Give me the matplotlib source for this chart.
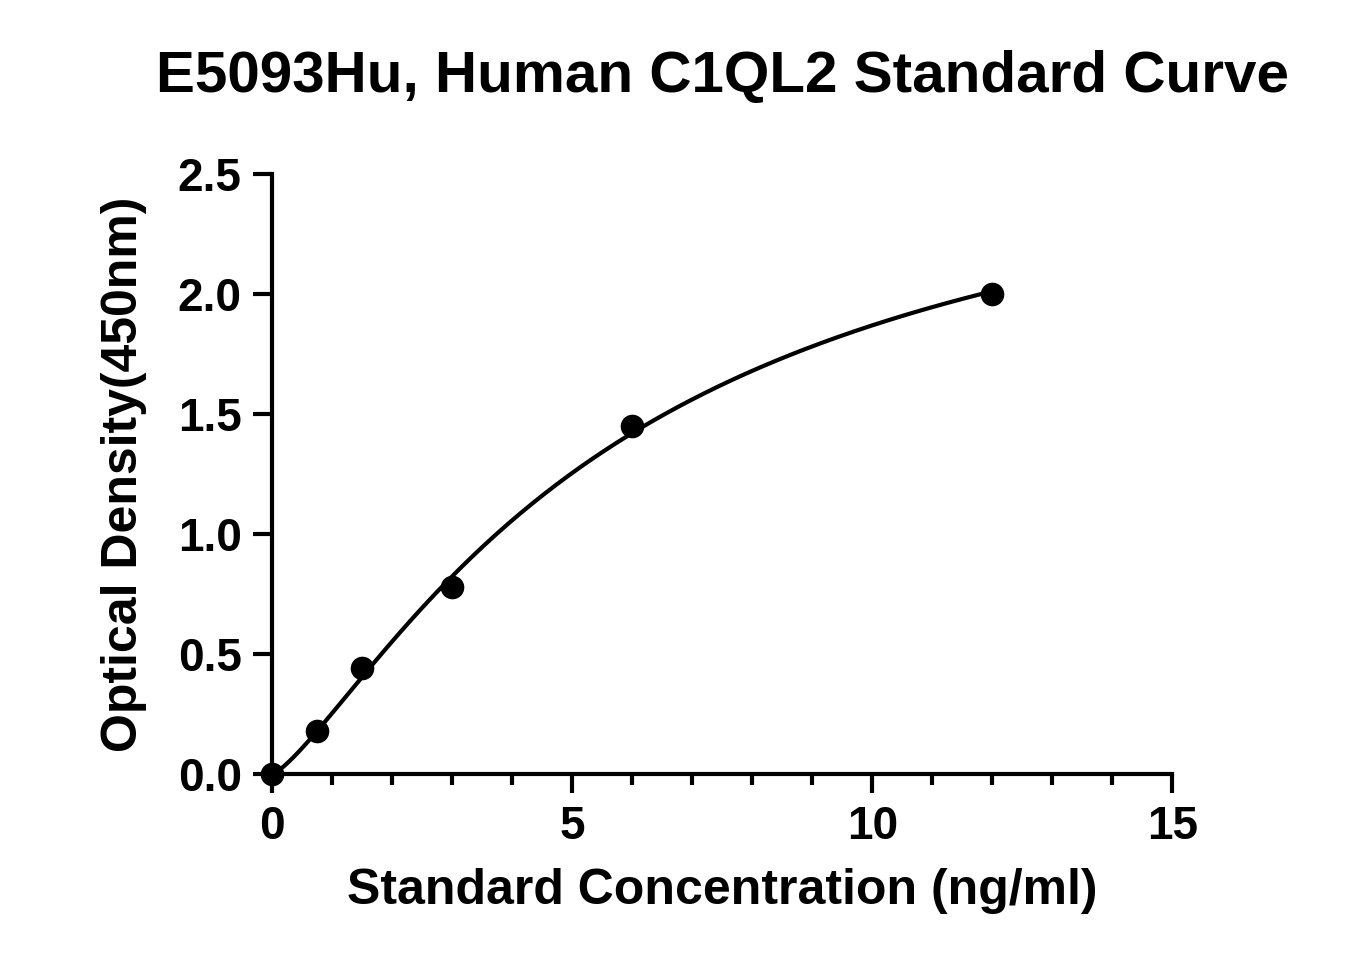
import numpy as np
import matplotlib
matplotlib.use("Agg")
import matplotlib.pyplot as plt
from matplotlib.ticker import MultipleLocator

conc = [0, 0.75, 1.5, 3, 6, 12]
od = [0.0, 0.18, 0.44, 0.78, 1.45, 2.0]

plt.rcParams['font.family'] = ['Liberation Sans', 'DejaVu Sans']
plt.rcParams['font.weight'] = 'bold'
fig = plt.figure(figsize=(13.68, 9.75), dpi=100)
ax = fig.add_axes([0.199, 0.206, 0.658, 0.616])

# 4-parameter logistic fit (bottom fixed at 0) by grid search
x = np.array(conc, float); y = np.array(od, float)
best = None
for b in np.linspace(1.0, 3.0, 81):
    for c in np.linspace(2, 30, 281):
        g = 1 - 1 / (1 + (x / c) ** b)
        d = (g @ y) / (g @ g)
        err = np.sum((d * g - y) ** 2)
        if best is None or err < best[0]:
            best = (err, b, c, d)
_, b, c, d = best
xs = np.linspace(0, 12, 300)
ax.plot(xs, d * (1 - 1 / (1 + (xs / c) ** b)), color='black', lw=3)
ax.plot(conc, od, 'o', color='black', ms=16, clip_on=False, zorder=3)

ax.set_xlim(0, 15)
ax.set_ylim(0, 2.5)
ax.xaxis.set_major_locator(MultipleLocator(5))
ax.xaxis.set_minor_locator(MultipleLocator(1))
ax.yaxis.set_major_locator(MultipleLocator(0.5))
ax.yaxis.set_major_formatter(matplotlib.ticker.FormatStrFormatter('%.1f'))
for s in ['top', 'right']:
    ax.spines[s].set_visible(False)
for s in ['left', 'bottom']:
    ax.spines[s].set_linewidth(3)
ax.tick_params(which='major', length=14, width=3, labelsize=33, pad=8)
ax.tick_params(which='minor', length=8, width=3)
for l in ax.get_xticklabels() + ax.get_yticklabels():
    l.set_fontweight('bold')
ax.set_xlabel('Standard Concentration (ng/ml)', fontsize=36, fontweight='bold', labelpad=14)
ax.set_ylabel('Optical Density(450nm)', fontsize=36, fontweight='bold', labelpad=22)
fig.text(0.528, 0.921, 'E5093Hu, Human C1QL2 Standard Curve', ha='center', va='center',
         fontsize=42, fontweight='bold')
fig.savefig('out.png', dpi=100)
